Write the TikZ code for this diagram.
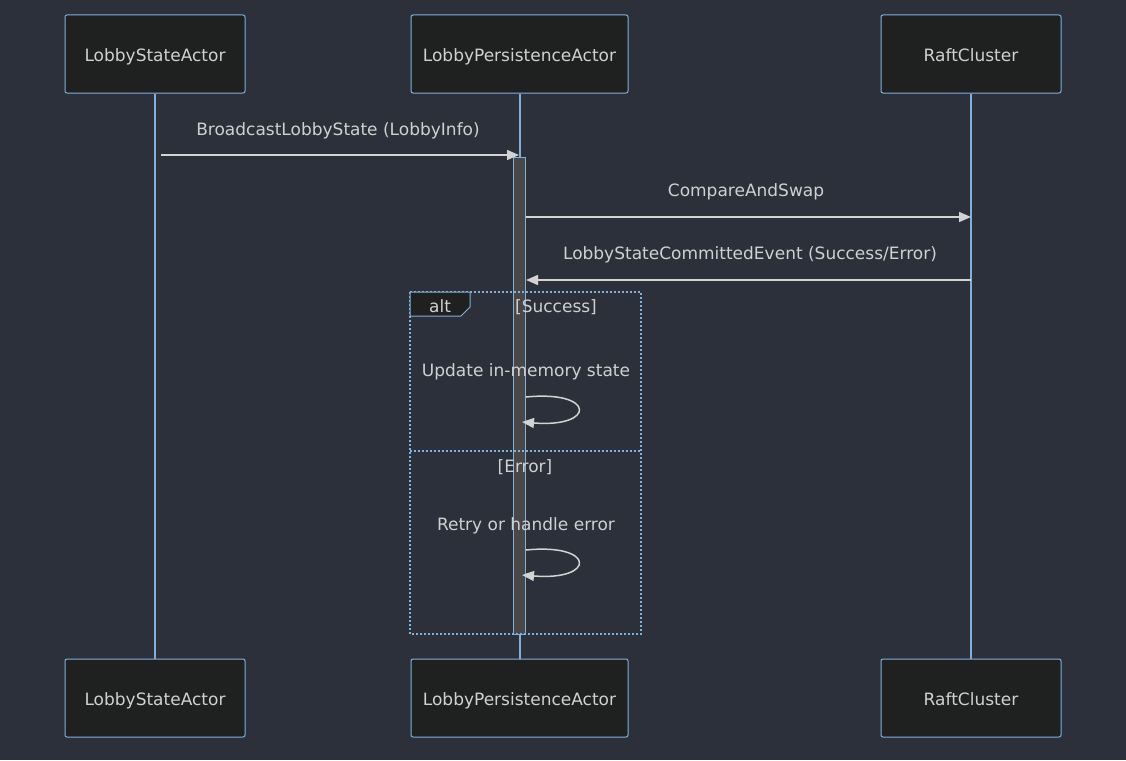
\documentclass[tikz,border=0pt]{standalone}
\usepackage{fontspec}
\setmainfont{DejaVu Sans}
\usetikzlibrary{arrows.meta}
\definecolor{bg}{HTML}{2B303B}
\definecolor{boxfill}{HTML}{1F2020}
\definecolor{edge}{HTML}{81B1DB}
\definecolor{txt}{HTML}{D0D0D0}
\definecolor{line}{HTML}{D3D3D3}
\definecolor{barfill}{HTML}{484848}

\begin{document}
\begin{tikzpicture}[x=1pt, y=-1pt, font=\fontsize{17}{20}\selectfont, text=txt,
  actor/.style = {draw=edge, fill=boxfill, rounded corners=2pt, line width=1pt, minimum height=78pt, inner sep=0pt, text height=14pt, text depth=0pt},
  life/.style = {draw=edge, line width=2pt},
  msg/.style = {draw=line, line width=1.5pt, -{Triangle[length=12pt,width=10pt]}},
  frame/.style = {draw=edge, line width=2pt, dash pattern=on 2pt off 2pt},
  lbl/.style = {inner sep=0pt, anchor=base}]
\fill[bg] (0,0) rectangle (1126,760);
% actors
\node[actor, minimum width=180pt] (lsa) at (155,54) {LobbyStateActor};
\node[actor, minimum width=217pt] (lpa) at (519.5,54) {LobbyPersistenceActor};
\node[actor, minimum width=180pt] (raft) at (971,54) {RaftCluster};
\node[actor, minimum width=180pt] (lsa2) at (155,698) {LobbyStateActor};
\node[actor, minimum width=217pt] (lpa2) at (519.5,698) {LobbyPersistenceActor};
\node[actor, minimum width=180pt] (raft2) at (971,698) {RaftCluster};
% lifelines
\draw[life] (lsa) -- (lsa2);
\draw[life] (lpa) -- (lpa2);
\draw[life] (raft) -- (raft2);
% activation
\node[draw=edge, fill=barfill, line width=1pt, minimum width=12pt, minimum height=477pt, inner sep=0pt] (bar) at (519.5,395.5) {};
% messages
\coordinate (m1a) at (161,155);
\coordinate (m1b) at (519,155);
\coordinate (m2a) at (526,217);
\coordinate (m2b) at (971,217);
\coordinate (m3a) at (971,280);
\coordinate (m3b) at (526,280);
\draw[msg] (m1a) -- (m1b);
\node[lbl] (t1) at (338,135) {BroadcastLobbyState (LobbyInfo)};
\draw[msg] (m2a) -- (m2b);
\node[lbl] (t2) at (746,196) {CompareAndSwap};
\draw[msg] (m3a) -- (m3b);
\node[lbl] (t3) at (750,259) {LobbyStateCommittedEvent (Success/Error)};
% alt frame
\draw[frame] (410,292) rectangle (641,634);
\draw[frame] (410,451) -- (641,451);
\draw[draw=edge, fill=boxfill, line width=1pt] (410,292) -- (470,292) -- (470,307) -- (461,316) -- (410,316) -- cycle;
\node[lbl] (alt) at (440,312) {alt};
\node[lbl] (ok) at (556,312) {[Success]};
\node[lbl] (err) at (525,472) {[Error]};
% self calls
\node[lbl] (t4) at (526,376) {Update in-memory state};
\coordinate (s1a) at (526,397);
\coordinate (s1b) at (522,422);
\draw[msg] (s1a) .. controls (596,390) and (596,428) .. (s1b);
\node[lbl] (t5) at (526,530) {Retry or handle error};
\coordinate (s2a) at (526,550);
\coordinate (s2b) at (522,575);
\draw[msg] (s2a) .. controls (596,543) and (596,581) .. (s2b);
\end{tikzpicture}
\end{document}
